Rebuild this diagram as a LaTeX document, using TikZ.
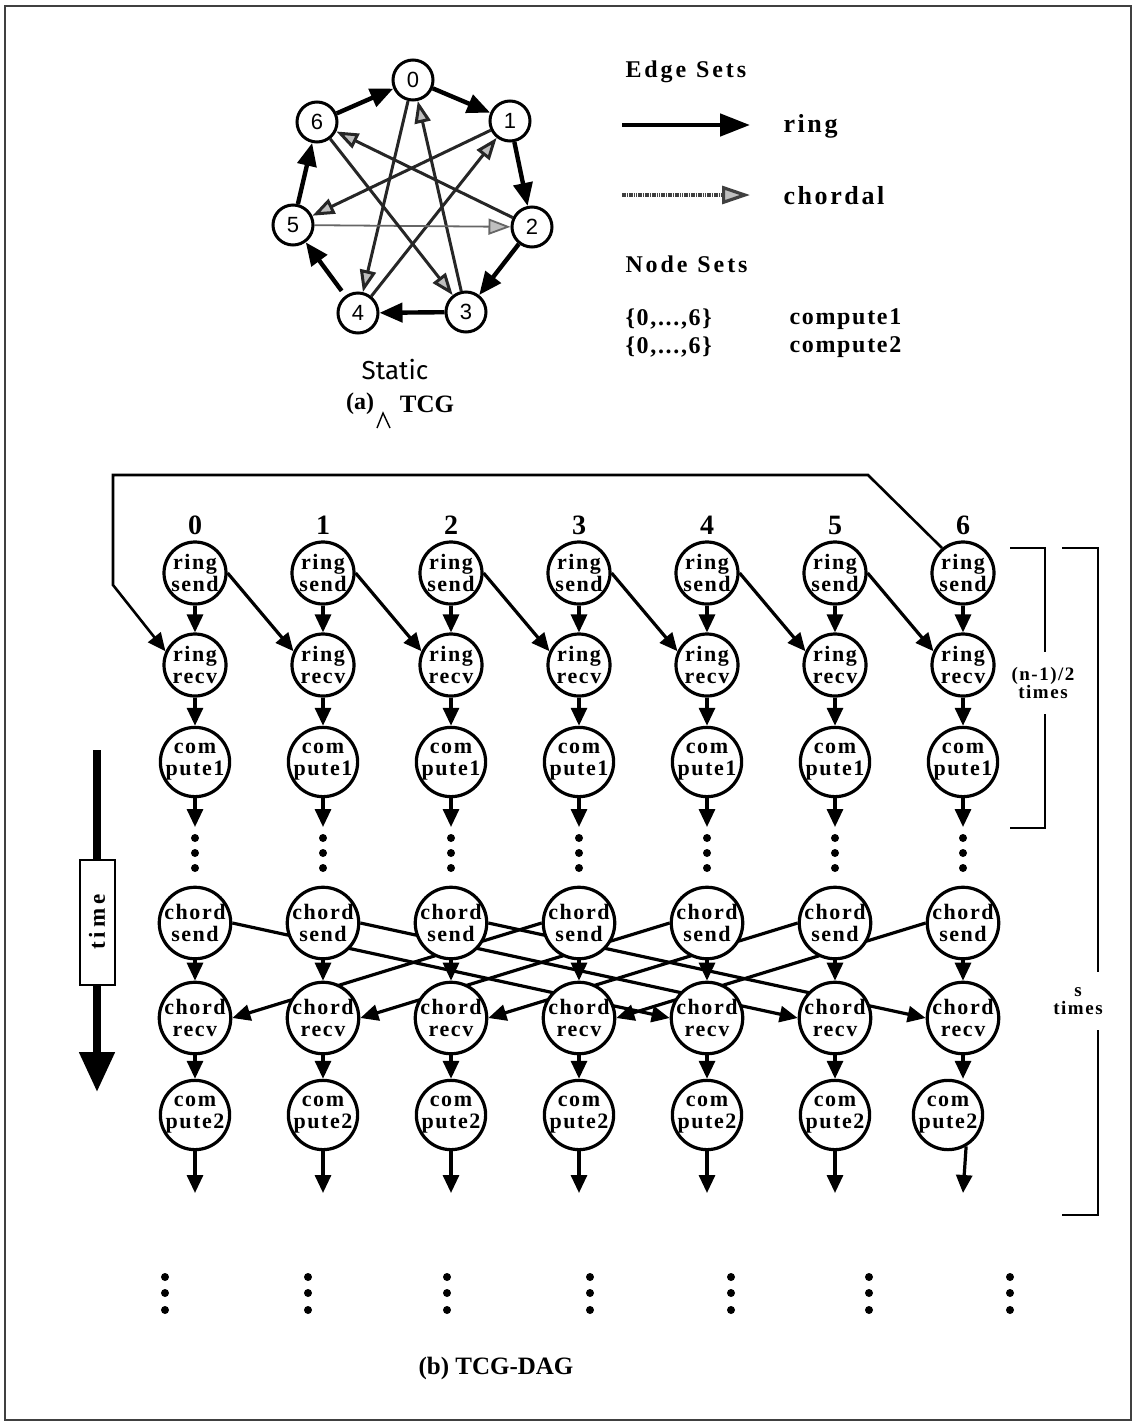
\documentclass[tikz,border=0pt]{standalone}
\usepackage{fontspec}
\setmainfont{Liberation Serif}
\newfontfamily\lsA[LetterSpace=7]{Liberation Serif}
\newfontfamily\lsB[LetterSpace=10]{Liberation Serif}
\newfontfamily\lsC[LetterSpace=12]{Liberation Serif}
\newfontfamily\lsD[LetterSpace=8]{Liberation Serif}
\newfontfamily\lsE[LetterSpace=7]{Liberation Serif}
\newfontfamily\lsT[LetterSpace=18]{Liberation Serif}
\newfontfamily\hvf{Liberation Sans}
\newfontfamily\handf{Fira Sans}
\usetikzlibrary{arrows.meta,backgrounds}
\begin{document}
\begin{tikzpicture}[x=1pt,y=-1pt,
  proc/.style={circle,draw,line width=3.2pt,fill=white,minimum size=62pt,inner sep=0pt,align=center,
    font=\lsA\bfseries\fontsize{22}{22}\selectfont},
  tcg/.style={circle,draw,line width=3pt,fill=white,minimum size=40pt,inner sep=0pt,
    font=\hvf\fontsize{22}{22}\selectfont},
  ringA/.style={line width=4.4pt,-{Triangle[length=23pt,width=19pt]}},
  chordA/.style={line width=3pt,draw=black!85,-{Triangle[length=22pt,width=16pt,fill=gray!50]}},
  dag/.style={line width=3.2pt,-{Triangle[length=18pt,width=16pt]}},
  dotm/.style={circle,fill,inner sep=0pt,minimum size=8pt},
  collbl/.style={font=\bfseries\fontsize{28}{28}\selectfont},
  legt/.style={font=\lsC\bfseries\fontsize{24}{24}\selectfont,anchor=west},
  legw/.style={font=\lsB\bfseries\fontsize{26}{26}\selectfont,anchor=west},
  setl/.style={font=\lsE\bfseries\fontsize{24}{24}\selectfont,anchor=west},
  brl/.style={font=\lsD\bfseries\fontsize{19}{19}\selectfont},
  brk/.style={line width=2.6pt}
]
\useasboundingbox (0,0) rectangle (1137,1425);
\draw[line width=2.4pt,black!75] (5,6) rectangle (1131,1420);

% ---------- (a) TCG ----------
\node[tcg] (t0) at (413,80) {0};
\node[tcg] (t1) at (510,121) {1};
\node[tcg] (t2) at (532,227) {2};
\node[tcg] (t3) at (466,312) {3};
\node[tcg] (t4) at (358,313) {4};
\node[tcg] (t5) at (293,225) {5};
\node[tcg] (t6) at (317,122) {6};
\begin{scope}[on background layer]
  \draw[chordA] (t0) -- (t4);
  \draw[chordA] (t1) -- (t5);
  \draw[chordA] (t2) -- (t6);
  \draw[chordA] (t3) -- (t0);
  \draw[chordA] (t4) -- (t1);
  \draw[chordA,line width=1.8pt,draw=black!60] (t5) -- (t2);
  \draw[chordA] (t6) -- (t3);
\end{scope}
\draw[ringA] (t0) -- (t1);
\draw[ringA] (t1) -- (t2);
\draw[ringA] (t2) -- (t3);
\draw[ringA] (t3) -- (t4);
\draw[ringA,shorten <=6pt] (t4) -- (t5);
\draw[ringA] (t5) -- (t6);
\draw[ringA] (t6) -- (t0);

\node[font=\handf\fontsize{26}{26}\selectfont] (st) at (395,370) {Static};
\node[font=\bfseries\fontsize{24}{24}\selectfont] (aa) at (360,404) {(a)};
\node[font=\bfseries\fontsize{25}{25}\selectfont] (atcg) at (427,404) {TCG};
\coordinate (c1) at (377,428); \coordinate (c2) at (383,413); \coordinate (c3) at (390,428);
\draw[line width=1.4pt] (c1) -- (c2) -- (c3);

% ---------- legend ----------
\node[legt] (es) at (622,72) {Edge\hspace{10pt}Sets};
\coordinate (lr1) at (622,125); \coordinate (lr2) at (750,125);
\draw[line width=4.8pt,-{Triangle[length=30pt,width=22pt]}] (lr1) -- (lr2);
\node[legw] (lring) at (780,126) {ring};
\coordinate (lc1) at (622,195); \coordinate (lc2) at (750,195);
\draw[line width=3.2pt,draw=black!75,dash pattern=on 1.6pt off 0.7pt,
  -{Triangle[length=28pt,width=18pt,fill=gray!50]}] (lc1) -- (lc2);
\node[legw] (lchord) at (780,196) {chordal};
\node[legt] (ns) at (622,264) {Node\hspace{10pt}Sets};
\node[setl] (s1) at (622,319) {\{0,...,6\}};
\node[setl] (s2) at (622,347) {\{0,...,6\}};
\node[setl] (cp1) at (786,319) {compute1};
\node[setl] (cp2) at (786,347) {compute2};

% ---------- (b) TCG-DAG ----------
\foreach \i in {0,...,6}{
  \pgfmathsetmacro{\X}{195+128*\i}
  \pgfmathsetmacro{\Xd}{\i==6 ? 948 : 195+128*\i}
  \node[collbl] (n\i) at (\X,525) {\i};
  \node[proc] (s\i) at (\X,573) {ring\\send};
  \node[proc] (r\i) at (\X,665) {ring\\recv};
  \node[proc] (c\i) at (\X,762) {com\\pute1};
  \node[proc] (cs\i) at (\X,923) {chord\\send};
  \node[proc] (cr\i) at (\X,1018) {chord\\recv};
  \node[proc] (d\i) at (\Xd,1115) {com\\pute2};
  \coordinate (e\i) at (\X,827);
  \coordinate (f\i) at (\X,1193);
  \node[dotm] (ma\i) at (\X,838) {};
  \node[dotm] (mb\i) at (\X,853) {};
  \node[dotm] (mc\i) at (\X,868) {};
}
\foreach \i/\xx in {0/165,1/308,2/447,3/590,4/731,5/869,6/1010}{
  \node[dotm] (ba\i) at (\xx,1277) {};
  \node[dotm] (bb\i) at (\xx,1293) {};
  \node[dotm] (bc\i) at (\xx,1310) {};
}
\begin{scope}[on background layer]
  \foreach \i/\j in {0/4,1/5,2/6}{ \draw[dag] (cs\i.east) -- (cr\j.west); }
  \foreach \i/\j in {3/0,4/1,5/2,6/3}{ \draw[dag] (cs\i.west) -- (cr\j.east); }
\end{scope}
\foreach \i in {0,...,6}{
  \draw[dag] (s\i) -- (r\i);
  \draw[dag] (r\i) -- (c\i);
  \draw[dag] (c\i) -- (e\i);
  \draw[dag] (cs\i) -- (cr\i);
}
\foreach \i in {0,...,5}{
  \draw[dag] (cr\i) -- (d\i);
  \draw[dag] (d\i) -- (f\i);
}
\draw[dag] (cr6.south) -- (cr6.south |- d6.north);
\draw[dag] (d6.-60) -- (f6);
\foreach \i/\j in {0/1,1/2,2/3,3/4,4/5,5/6}{ \draw[dag] (s\i.east) -- (r\j.155); }
\coordinate (fb1) at (868,475); \coordinate (fb2) at (113,475); \coordinate (fb3) at (113,585);
\draw[dag,line width=2.6pt] (s6.130) -- (fb1) -- (fb2) -- (fb3) -- (r0.155);

% time arrow
\coordinate (tt) at (97,750); \coordinate (tb) at (97,1092);
\draw[line width=8pt,-{Triangle[length=40pt,width=34pt]}] (tt) -- (tb);
\node[draw,fill=white,line width=2pt,minimum width=125pt,minimum height=35pt,rotate=90,
  font=\lsT\bfseries\fontsize{23}{23}\selectfont] (tbox) at (97,922) {time};

% brackets
\coordinate (b1a) at (1010,548); \coordinate (b1b) at (1045,548); \coordinate (b1c) at (1045,652);
\coordinate (b1d) at (1045,714); \coordinate (b1e) at (1045,828); \coordinate (b1f) at (1010,828);
\draw[brk] (b1a) -- (b1b) -- (b1c);
\draw[brk] (b1d) -- (b1e) -- (b1f);
\node[brl,align=center] (b1l) at (1043,683) {(n-1)/2\\[-1pt]times};
\coordinate (b2a) at (1062,548); \coordinate (b2b) at (1098,548); \coordinate (b2c) at (1098,972);
\coordinate (b2d) at (1098,1030); \coordinate (b2e) at (1098,1215); \coordinate (b2f) at (1062,1215);
\draw[brk] (b2a) -- (b2b) -- (b2c);
\draw[brk] (b2d) -- (b2e) -- (b2f);
\node[brl,align=center] (b2l) at (1078,1001) {s\\[-1pt]times};

% caption
\node[font=\bfseries\fontsize{25}{25}\selectfont] (capb) at (496,1368) {(b) TCG-DAG};
\end{tikzpicture}
\end{document}
